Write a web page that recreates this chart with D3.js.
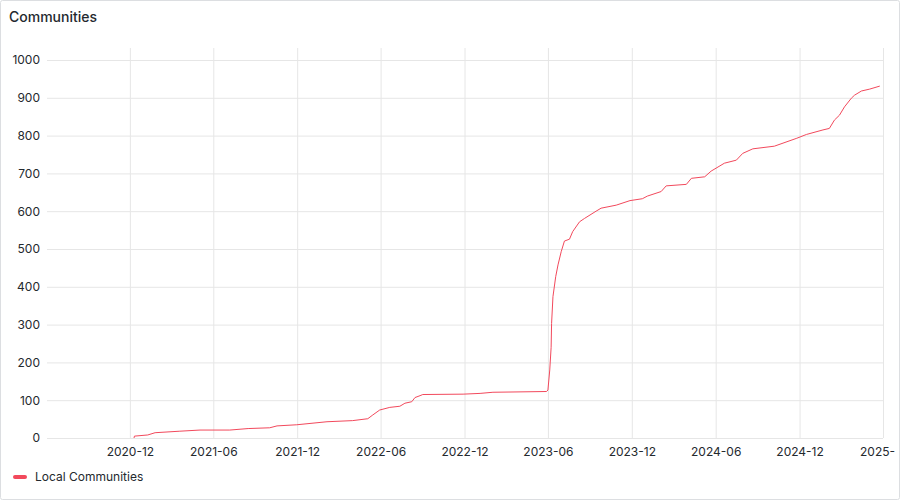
<!DOCTYPE html>
<html><head><meta charset="utf-8">
<script src="https://cdn.jsdelivr.net/npm/d3@7"></script>
<style>
html,body{margin:0;padding:0;background:#fff;}
svg{display:block;font-family:Inter, "Noto Sans", sans-serif;}
</style></head>
<body>
<svg id="chart" width="900" height="500"></svg>
<script>
const title = "Communities";
const seriesName = "Local Communities";
const dates = ["2020-12-10","2020-12-11","2021-01-09","2021-01-25","2021-03-20","2021-05-03","2021-07-07","2021-08-16","2021-10-02","2021-10-18","2021-11-30","2022-02-04","2022-04-01","2022-05-04","2022-05-15","2022-05-30","2022-06-21","2022-07-13","2022-07-24","2022-08-08","2022-08-15","2022-08-26","2022-09-01","2022-11-28","2023-01-04","2023-02-01","2023-05-29","2023-06-01","2023-06-05","2023-06-08","2023-06-09","2023-06-12","2023-06-18","2023-06-23","2023-06-30","2023-07-07","2023-07-18","2023-07-25","2023-08-09","2023-08-20","2023-09-14","2023-09-25","2023-10-28","2023-11-27","2023-12-24","2024-01-04","2024-02-03","2024-02-14","2024-03-29","2024-04-09","2024-05-08","2024-05-22","2024-06-20","2024-07-16","2024-07-30","2024-08-21","2024-10-07","2024-11-25","2024-12-16","2025-01-21","2025-02-04","2025-02-15","2025-02-26","2025-03-09","2025-03-24","2025-03-31","2025-04-15","2025-05-03","2025-05-25"];
const values = [0,5,8,14,18,21,21,25,27,32,35,43,46,51,61,74,81,84,92,96,107,112,115,116,118,121,123,127,180,240,303,374,427,458,493,521,526,546,572,581,600,608,616,628,633,640,652,667,671,687,691,706,727,735,753,765,772,793,803,815,819,841,854,876,899,907,918,923,931];
const yTicks = [0,100,200,300,400,500,600,700,800,900,1000];
const xTickLabels = ["2020-12","2021-06","2021-12","2022-06","2022-12","2023-06","2023-12","2024-06","2024-12","2025-06"];

const parse = d3.timeParse("%Y-%m-%d");
const parseM = d3.timeParse("%Y-%m");
const data = dates.map((d,i)=>({date:parse(d), value:values[i]}));

const svg = d3.select("#chart");
const textColor = "#24292e";
const gridColor = "#e6e6e6";
const lineColor = "#f2495c";

// panel border
svg.append("rect").attr("x",0.5).attr("y",0.5).attr("width",899).attr("height",499)
  .attr("rx",2).attr("fill","#fff").attr("stroke","#dcdee1");

svg.append("text").attr("x",9).attr("y",22).text(title)
  .attr("font-size",14).attr("font-weight",500).attr("fill",textColor);

const x = d3.scaleTime().domain([parseM("2020-06"), parseM("2025-06")]).range([46, 883]);
const y = d3.scaleLinear().domain([0,1000]).range([438,60]);
const plotTop = 48;

const g = svg.append("g");

// horizontal grid + y labels
const yAxis = d3.axisLeft(y).tickValues(yTicks).tickFormat(d3.format("d")).tickSize(-(883-47)).tickPadding(7);
const ya = g.append("g").attr("transform","translate(47,0)").call(yAxis);
ya.select(".domain").remove();
ya.selectAll(".tick line").attr("stroke",gridColor);
ya.selectAll(".tick text").attr("font-size",12).attr("fill",textColor).attr("font-family","Inter, sans-serif");

// vertical grid + x labels
const xTicks = xTickLabels.map(s=>parseM(s));
const lastIdx = xTicks.length - 1;
const xAxis = d3.axisBottom(x).tickValues(xTicks).tickFormat(d3.timeFormat("%Y-%m")).tickSize(-(438-plotTop)).tickPadding(9);
const xa = g.append("g").attr("transform","translate(0,438)").call(xAxis);
xa.select(".domain").remove();
xa.selectAll(".tick line").attr("stroke",gridColor);
xa.selectAll(".tick text").attr("font-size",12).attr("fill",textColor).attr("font-family","Inter, sans-serif");
// the last label is cut at the panel edge in the reference: show its visible part
xa.selectAll(".tick text").filter((d,i)=>i===lastIdx)
  .text(d=>d3.timeFormat("%Y-")(d)).attr("text-anchor","start").attr("dx",-23.5);

// line
const line = d3.line().x(d=>x(d.date)).y(d=>y(d.value)).curve(d3.curveLinear);
g.append("path").datum(data).attr("d",line).attr("fill","none")
  .attr("stroke",lineColor).attr("stroke-width",1);

// legend
svg.append("line").attr("x1",15).attr("x2",25).attr("y1",477).attr("y2",477)
  .attr("stroke",lineColor).attr("stroke-width",4).attr("stroke-linecap","round");
svg.append("text").attr("x",35).attr("y",481).text(seriesName)
  .attr("font-size",12).attr("fill",textColor);
</script>
</body></html>
